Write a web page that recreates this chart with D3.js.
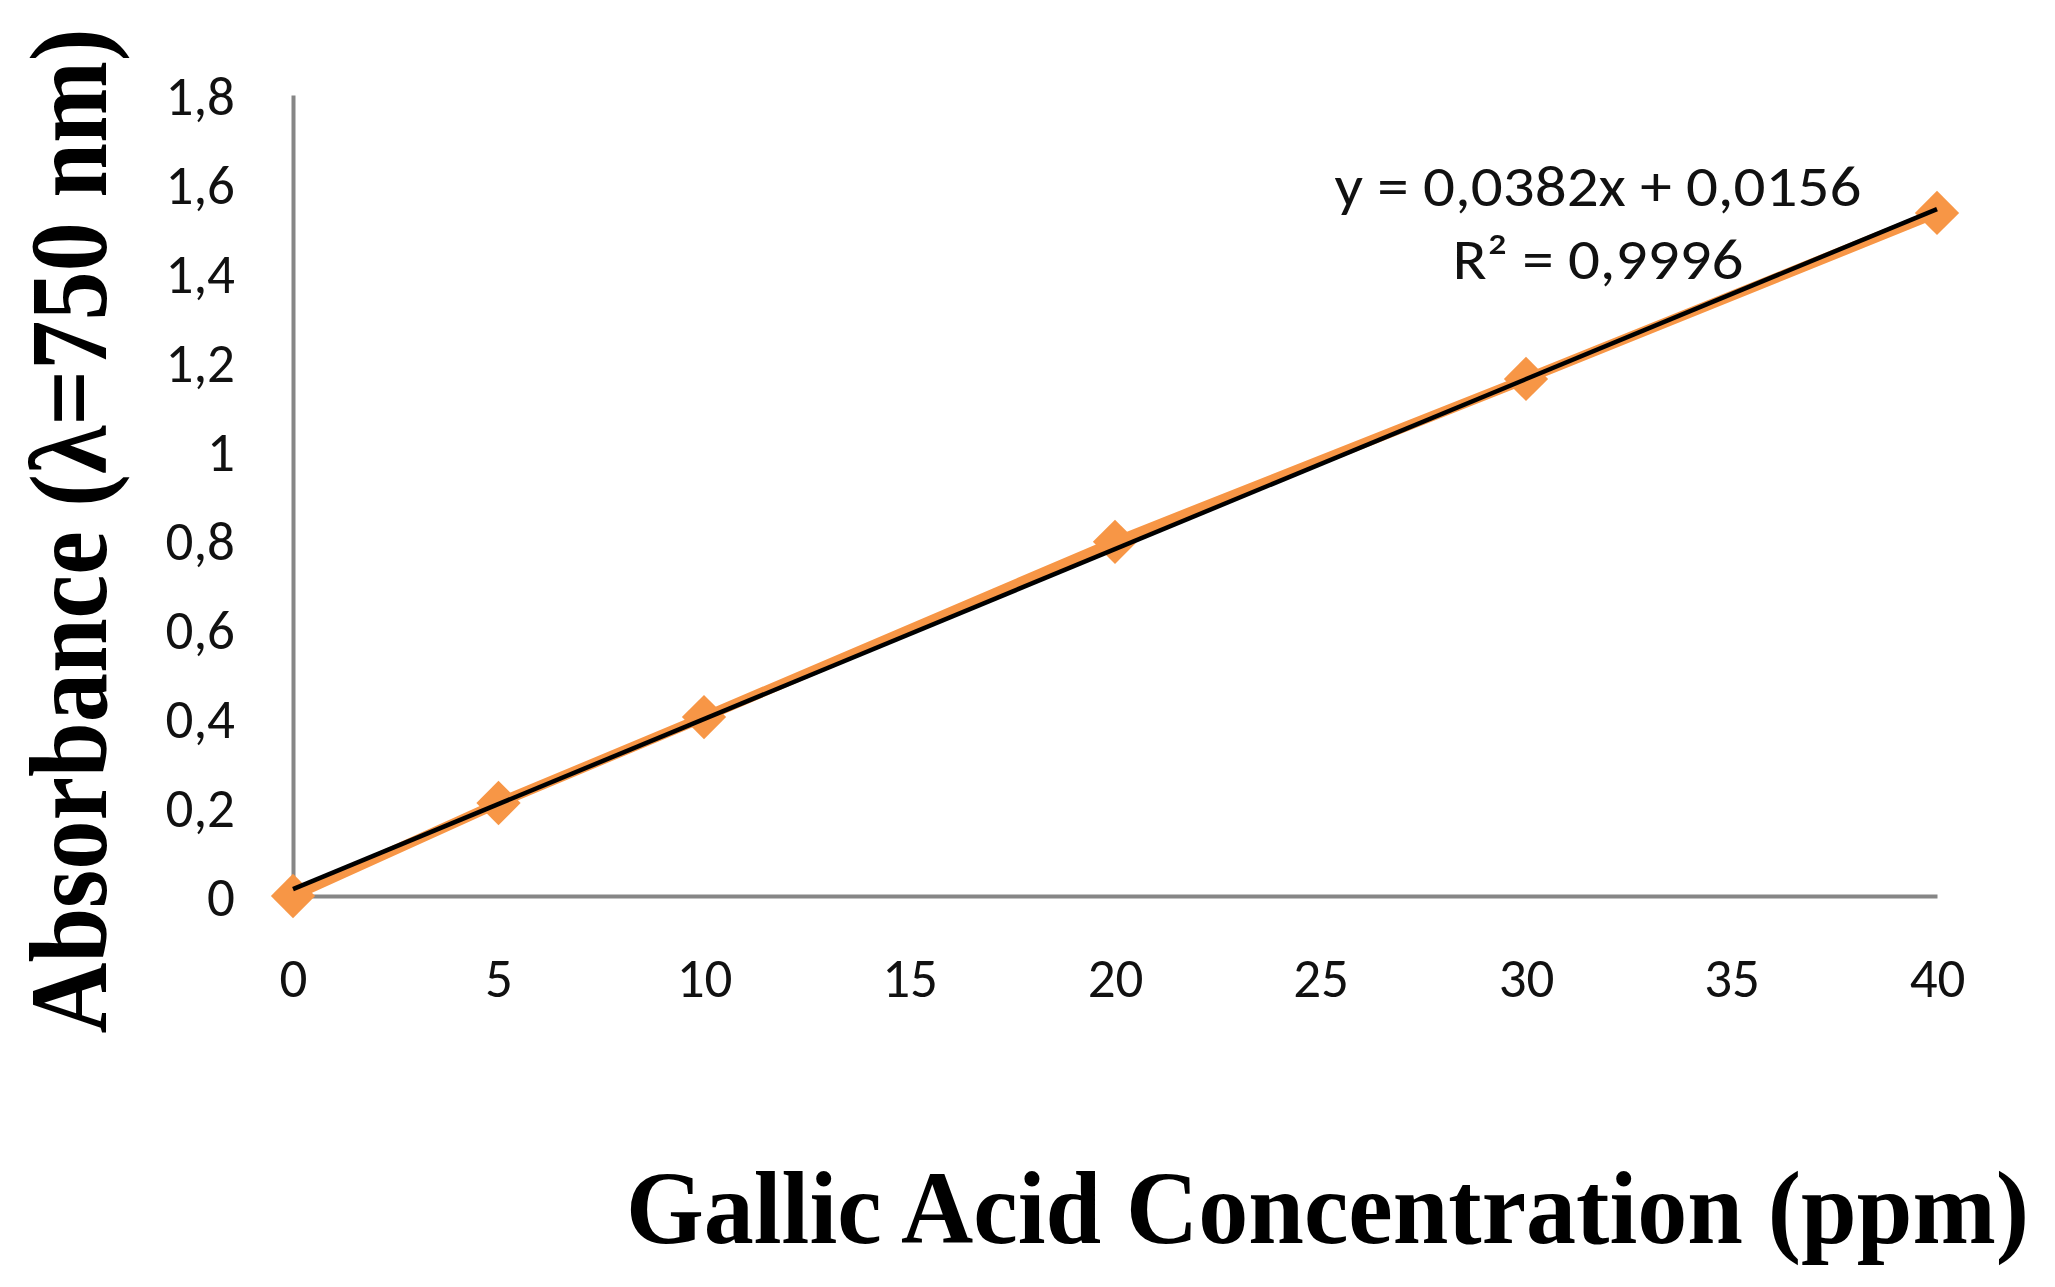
<!DOCTYPE html>
<html>
<head>
<meta charset="utf-8">
<script src="https://cdn.jsdelivr.net/npm/d3@7"></script>
<style>
  html, body { margin: 0; padding: 0; background: #fff; }
  svg { display: block; }
</style>
</head>
<body>
<svg id="chart" width="2055" height="1287"></svg>
<script>
// ---- data ----
const concentrations = [0, 5, 10, 20, 30, 40];
const absorbances = [0, 0.209, 0.402, 0.796, 1.162, 1.535];
const xTicks = [0, 5, 10, 15, 20, 25, 30, 35, 40];
const yTicks = [0, 0.2, 0.4, 0.6, 0.8, 1, 1.2, 1.4, 1.6, 1.8];
const yTickLabels = ["0", "0,2", "0,4", "0,6", "0,8", "1", "1,2", "1,4", "1,6", "1,8"];
const trendSlope = 0.0382;
const trendIntercept = 0.0156;
const equationLines = ["y = 0,0382x + 0,0156", "R² = 0,9996"];
const xTitle = "Gallic Acid Concentration (ppm)";
const yTitle = "Absorbance (λ=750 nm)";

// ---- layout ----
const svg = d3.select("#chart");
const x = d3.scaleLinear().domain([0, 40]).range([293, 1937]);
const y = d3.scaleLinear().domain([0, 1.8]).range([896, 95]);
const orange = "#F79646";
const tickFont = "Carlito, Calibri, Lato, sans-serif";

// axes (no tick marks)
const xAxis = d3.axisBottom(x).tickValues(xTicks).tickSize(0).tickPadding(0).tickFormat(d => String(d));
const gx = svg.append("g").attr("transform", `translate(0,${y(0)})`).call(xAxis);
gx.select(".domain").attr("stroke", "#868686").attr("stroke-width", 4);
gx.selectAll("text")
  .attr("font-family", tickFont).attr("font-size", 55).attr("fill", "#111")
  .attr("dy", null).attr("y", 101);

const yAxis = d3.axisLeft(y).tickValues(yTicks).tickSize(0).tickPadding(0)
  .tickFormat((d, i) => yTickLabels[i]);
const gy = svg.append("g").attr("transform", `translate(${x(0)},0)`).call(yAxis);
gy.select(".domain").attr("stroke", "#868686").attr("stroke-width", 4);
gy.selectAll("text")
  .attr("font-family", tickFont).attr("font-size", 55).attr("fill", "#111")
  .attr("x", -58).attr("dy", "0.36em");

// data line
const pts = concentrations.map((c, i) => [c, absorbances[i]]);
svg.append("path")
  .datum(pts)
  .attr("fill", "none")
  .attr("stroke", orange)
  .attr("stroke-width", 10)
  .attr("stroke-linejoin", "round")
  .attr("d", d3.line().x(d => x(d[0])).y(d => y(d[1])));

// diamond markers
const diamond = d3.symbol().type(d3.symbolSquare).size(980);
svg.append("g").selectAll("path")
  .data(pts).join("path")
  .attr("d", diamond)
  .attr("fill", orange)
  .attr("transform", d => `translate(${x(d[0])},${y(d[1])}) rotate(45)`);

// trendline
const trendX = [0, 40];
svg.append("path")
  .datum(trendX)
  .attr("fill", "none")
  .attr("stroke", "#000")
  .attr("stroke-width", 4.5)
  .attr("d", d3.line().x(d => x(d)).y(d => y(trendSlope * d + trendIntercept)));

// equation
svg.append("text")
  .attr("x", 1598).attr("y", 206)
  .attr("text-anchor", "middle")
  .attr("font-family", tickFont).attr("font-size", 57).attr("fill", "#111")
  .attr("textLength", 527).attr("lengthAdjust", "spacingAndGlyphs")
  .text(equationLines[0]);
svg.append("text")
  .attr("x", 1598).attr("y", 279)
  .attr("text-anchor", "middle")
  .attr("font-family", tickFont).attr("font-size", 57).attr("fill", "#111")
  .attr("textLength", 291).attr("lengthAdjust", "spacingAndGlyphs")
  .text(equationLines[1]);

// axis titles
svg.append("text")
  .attr("x", 626).attr("y", 1243)
  .attr("font-family", "'Liberation Serif', 'Times New Roman', serif")
  .attr("font-weight", "bold").attr("font-size", 104).attr("fill", "#000")
  .attr("textLength", 1403).attr("lengthAdjust", "spacingAndGlyphs")
  .text(xTitle);

svg.append("text")
  .attr("transform", "translate(106,531) rotate(-90)")
  .attr("text-anchor", "middle")
  .attr("font-family", "'Liberation Serif', 'Times New Roman', serif")
  .attr("font-weight", "bold").attr("font-size", 111).attr("fill", "#000")
  .attr("textLength", 1005).attr("lengthAdjust", "spacingAndGlyphs")
  .text(yTitle);
</script>
</body>
</html>
